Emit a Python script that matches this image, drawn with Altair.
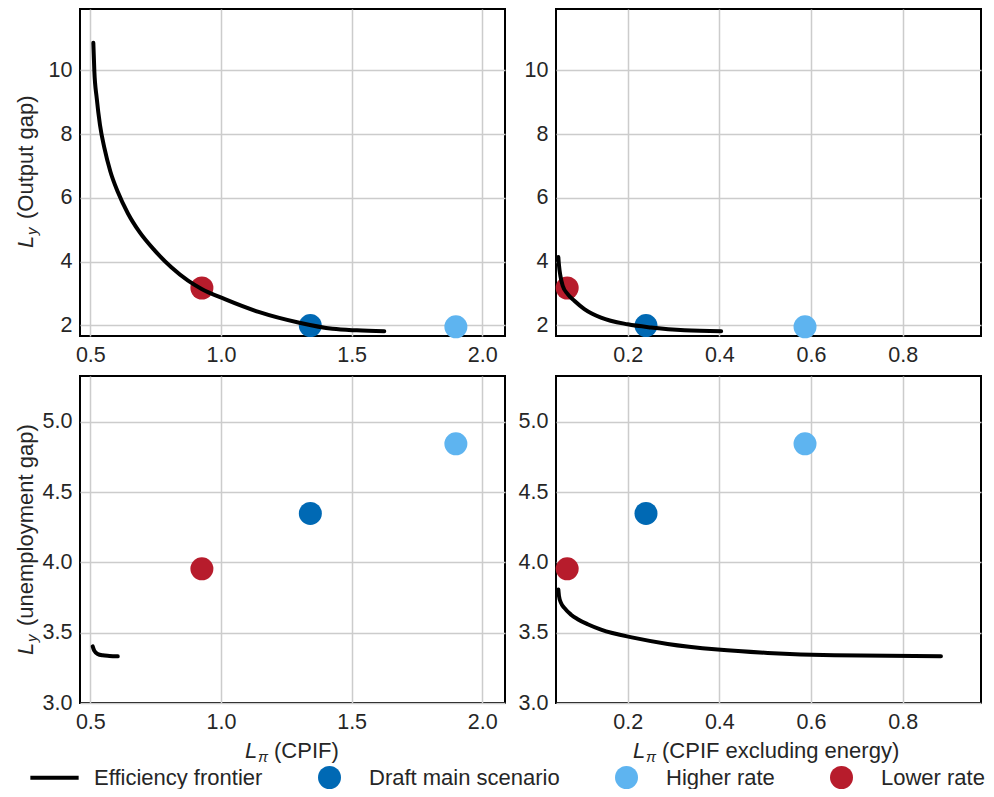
import altair as alt
import pandas as pd

FONT = "Liberation Sans"
TXT = "#262626"

# ---- legend / series ----
SERIES = ["Efficiency frontier", "Draft main scenario", "Higher rate", "Lower rate"]
SERIES_COLORS = ["#000000", "#0069b4", "#5eb4f0", "#b71c2c"]
LINE_SYMBOL = "M-2.1,-0.17L2.1,-0.17L2.1,0.17L-2.1,0.17Z"
SERIES_SHAPES = [LINE_SYMBOL, "circle", "circle", "circle"]

# ---- scenario points ----
SCENARIOS = ["Draft main scenario", "Higher rate", "Lower rate"]
LPI_CPIF = [1.342, 1.899, 0.927]
LPI_EXCL = [0.240, 0.587, 0.068]
LY_OUTPUT = [1.99, 1.95, 3.17]
LY_UNEMP = [4.348, 4.843, 3.954]

# ---- efficiency frontiers ----
F1_X = [0.5115, 0.5154, 0.5244, 0.537, 0.554, 0.577, 0.605, 0.644, 0.688, 0.746, 0.810,
        0.874, 0.926, 1.015, 1.144, 1.300, 1.427, 1.520, 1.625]
F1_Y = [10.87, 9.98, 9.14, 8.29, 7.56, 6.82, 6.19, 5.51, 4.93, 4.35, 3.82,
        3.40, 3.14, 2.82, 2.42, 2.08, 1.89, 1.84, 1.81]

F2_X = [0.0487, 0.0502, 0.0531, 0.0582, 0.0691, 0.0836, 0.1055, 0.1418, 0.200, 0.251, 0.324, 0.404]
F2_Y = [4.14, 3.87, 3.56, 3.24, 2.98, 2.77, 2.51, 2.24, 2.03, 1.93, 1.84, 1.81]

F3_X = [0.509, 0.515, 0.528, 0.547, 0.573, 0.605]
F3_Y = [3.403, 3.372, 3.349, 3.339, 3.335, 3.332]

F4_X = [0.0487, 0.0502, 0.0545, 0.0618, 0.0764, 0.0909, 0.1127, 0.1418, 0.2145, 0.2873, 0.3964, 0.5055, 0.6509, 0.8836]
F4_Y = [3.807, 3.759, 3.712, 3.676, 3.628, 3.596, 3.560, 3.522, 3.463, 3.420, 3.380, 3.356, 3.339, 3.332]

# ---- axes ----
X_CPIF_DOMAIN = [0.4605, 2.087]
X_CPIF_TICKS = [0.5, 1.0, 1.5, 2.0]
X_EXCL_DOMAIN = [0.0436, 0.971]
X_EXCL_TICKS = [0.2, 0.4, 0.6, 0.8]
Y_OUT_DOMAIN = [1.663, 11.93]
Y_OUT_TICKS = [2, 4, 6, 8, 10]
Y_UNE_DOMAIN = [3.0, 5.325]
Y_UNE_TICKS = [3.0, 3.5, 4.0, 4.5, 5.0]

Y_TITLE_TOP = ["L", "y", "(Output gap)"]
Y_TITLE_BOTTOM = ["L", "y", "(unemployment gap)"]
X_TITLE_LEFT = ["L", "π", "(CPIF)"]
X_TITLE_RIGHT = ["L", "π", "(CPIF excluding energy)"]

W, H = 425, 327

LEG = alt.Legend(
    title=None, orient="none", legendX=-37, legendY=757, direction="horizontal",
    columns=4, symbolSize=529, symbolStrokeWidth=0, symbolOpacity=1,
    labelFont=FONT, labelFontSize=22, labelColor=TXT, labelOffset=28,
    columnPadding=55, padding=0, labelLimit=400,
)


def text_piece(t, x, y, size, italic=False, angle=0):
    return alt.Chart(pd.DataFrame({"t": [t]})).mark_text(
        font=FONT, fontSize=size, fontStyle="italic" if italic else "normal",
        angle=angle, align="left", baseline="alphabetic", color=TXT,
    ).encode(text="t:N", x=alt.value(x), y=alt.value(y))


def y_title(parts, y_start):
    L, sub, rest = parts
    return [
        text_piece(L, -47.5, y_start, 22, True, 270),
        text_piece(sub, -43.5, y_start - 13, 15, True, 270),
        text_piece(rest, -47.5, y_start - 29, 22, False, 270),
    ]


def x_title(parts, x_start):
    L, sub, rest = parts
    return [
        text_piece(L, x_start, 382, 22, True),
        text_piece(sub, x_start + 13, 386, 15, True),
        text_piece(rest, x_start + 29, 382, 22, False),
    ]


def panel(fx, fy, px, py, xdom, xticks, ydom, yticks, yfmt, extra):
    xs = alt.Scale(domain=xdom, nice=False, zero=False)
    ys = alt.Scale(domain=ydom, nice=False, zero=False)
    xax = alt.Axis(values=xticks, format=".1f", title=None, labelPadding=8)
    yax = alt.Axis(values=yticks, format=yfmt, title=None, labelPadding=8, minExtent=40)
    pts = pd.DataFrame({"x": px, "y": py, "series": SCENARIOS})
    fr = pd.DataFrame({"x": fx, "y": fy})
    points = alt.Chart(pts).mark_point(filled=True, size=529, opacity=1).encode(
        x=alt.X("x:Q", scale=xs, axis=xax),
        y=alt.Y("y:Q", scale=ys, axis=yax),
        color=alt.Color("series:N", scale=alt.Scale(domain=SERIES, range=SERIES_COLORS), legend=LEG),
        shape=alt.Shape("series:N", scale=alt.Scale(domain=SERIES, range=SERIES_SHAPES), legend=LEG),
    )
    line = alt.Chart(fr).mark_line(
        color="black", strokeWidth=4, interpolate="monotone", strokeCap="round"
    ).encode(
        x=alt.X("x:Q", scale=xs, axis=xax),
        y=alt.Y("y:Q", scale=ys, axis=yax),
    )
    return alt.layer(points, line, *extra).properties(width=W, height=H)


p1 = panel(F1_X, F1_Y, LPI_CPIF, LY_OUTPUT, X_CPIF_DOMAIN, X_CPIF_TICKS,
           Y_OUT_DOMAIN, Y_OUT_TICKS, "d", y_title(Y_TITLE_TOP, 239))
p2 = panel(F2_X, F2_Y, LPI_EXCL, LY_OUTPUT, X_EXCL_DOMAIN, X_EXCL_TICKS,
           Y_OUT_DOMAIN, Y_OUT_TICKS, "d", [])
p3 = panel(F3_X, F3_Y, LPI_CPIF, LY_UNEMP, X_CPIF_DOMAIN, X_CPIF_TICKS,
           Y_UNE_DOMAIN, Y_UNE_TICKS, ".1f", y_title(Y_TITLE_BOTTOM, 279) + x_title(X_TITLE_LEFT, 165))
p4 = panel(F4_X, F4_Y, LPI_EXCL, LY_UNEMP, X_EXCL_DOMAIN, X_EXCL_TICKS,
           Y_UNE_DOMAIN, Y_UNE_TICKS, ".1f", x_title(X_TITLE_RIGHT, 77))

row1 = alt.hconcat(p1, p2, spacing=9)
row2 = alt.hconcat(p3, p4, spacing=9)

chart = alt.vconcat(row1, row2, spacing=8).properties(
    padding={"left": 5, "top": 0, "right": 0, "bottom": 0}
).configure_view(
    stroke="black", strokeWidth=2
).configure_axis(
    labelFont=FONT, labelFontSize=21.5, labelColor=TXT,
    grid=True, gridColor="#cccccc", gridWidth=1.5,
    domain=False, ticks=False,
)

chart.save("out.html", embed_options={"renderer": "svg", "actions": False})
